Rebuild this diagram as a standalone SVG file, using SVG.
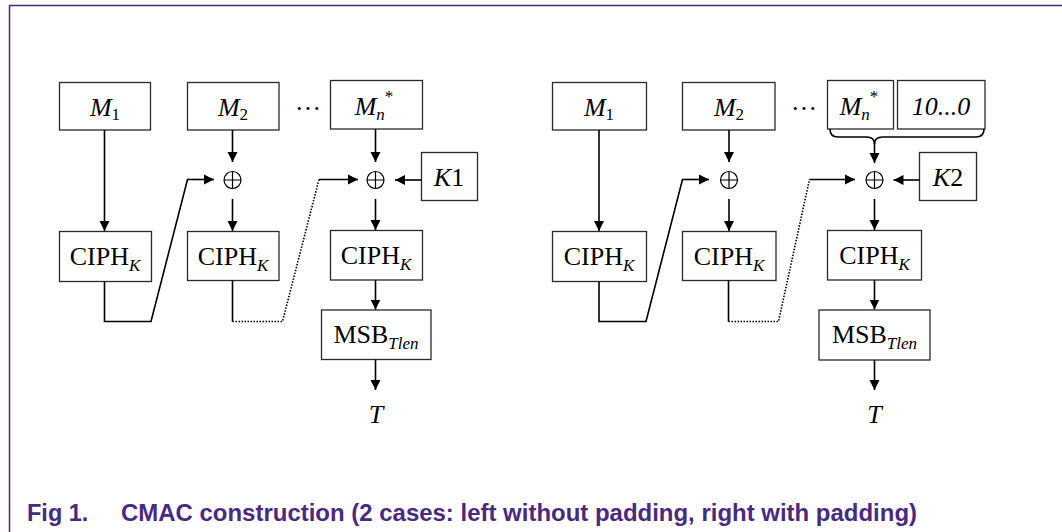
<svg xmlns="http://www.w3.org/2000/svg" width="1062" height="532" viewBox="0 0 1062 532">
<defs>
<marker id="ah" markerUnits="userSpaceOnUse" markerWidth="10" markerHeight="11" viewBox="0 0 10 11" refX="10" refY="5.5" orient="auto">
<path d="M0,0.5 L10,5.5 L0,10.5 Z" fill="#000"/>
</marker>
</defs>
<style>
.box{fill:#fff;stroke:#2a2a2a;stroke-width:1.3}
.t{font-family:"Liberation Serif","Times New Roman",serif;font-size:26px;fill:#000;text-anchor:middle}
.i{font-style:italic}
.sub{font-size:17px}
.ln{fill:none;stroke:#000;stroke-width:1.6}
.ar{fill:none;stroke:#000;stroke-width:1.6;marker-end:url(#ah)}
.dot{fill:none;stroke:#000;stroke-width:1.6;stroke-dasharray:1.5 1.5}
.x{fill:none;stroke:#000;stroke-width:1.2}
.frame{fill:none;stroke:#4A2A80;stroke-width:1.5}
.cap{font-family:"Liberation Sans",Arial,sans-serif;font-weight:bold;font-size:23.5px;fill:#4A2A80}
</style>
<path class="frame" d="M9.5,532 V5.5 H1062"/>

<!-- Left diagram -->
<g id="L_M1"><rect class="box" x="59.5" y="82.5" width="91" height="47.5"/><text class="t" x="105" y="116"><tspan class="i">M</tspan><tspan class="sub" dy="4">1</tspan></text></g>
<g id="L_M2"><rect class="box" x="187.5" y="82.5" width="91.5" height="47.5"/><text class="t" x="233" y="116"><tspan class="i">M</tspan><tspan class="sub" dy="4">2</tspan></text></g>
<g id="L_dots"><text class="t" x="308" y="110">…</text></g>
<g id="L_Mn"><rect class="box" x="330.5" y="80.5" width="92" height="48.5"/><text class="t" x="374" y="115"><tspan class="i">M</tspan><tspan class="sub i" dy="5">n</tspan><tspan class="sub" dy="-18">*</tspan></text></g>
<g id="L_K1"><rect class="box" x="421.5" y="152.5" width="56" height="48"/><text class="t" x="449" y="186"><tspan class="i">K</tspan>1</text></g>
<g id="L_X1"><circle class="x" cx="232.5" cy="180" r="8.5"/><path class="x" d="M224,180 H241 M232.5,171.5 V188.5"/></g>
<g id="L_X2"><circle class="x" cx="375.5" cy="180" r="8.5"/><path class="x" d="M367,180 H384 M375.5,171.5 V188.5"/></g>
<g id="L_C1"><rect class="box" x="59.5" y="231.5" width="92" height="50"/><text class="t" x="105" y="265">CIPH<tspan class="sub i" dy="6">K</tspan></text></g>
<g id="L_C2"><rect class="box" x="187.5" y="231.5" width="91.5" height="49"/><text class="t" x="233" y="264.5">CIPH<tspan class="sub i" dy="6">K</tspan></text></g>
<g id="L_C3"><rect class="box" x="330.5" y="230.5" width="92" height="49.5"/><text class="t" x="376" y="264">CIPH<tspan class="sub i" dy="6">K</tspan></text></g>
<g id="L_MSB"><rect class="box" x="321.5" y="310" width="109.5" height="49.5"/><text class="t" x="376" y="343">MSB<tspan class="sub i" dy="6">Tlen</tspan></text></g>
<g id="L_T"><text class="t i" x="376" y="423">T</text></g>

<!-- Right diagram -->
<g id="R_M1"><rect class="box" x="552.5" y="82.5" width="94" height="47.5"/><text class="t" x="599" y="116"><tspan class="i">M</tspan><tspan class="sub" dy="4">1</tspan></text></g>
<g id="R_M2"><rect class="box" x="682.5" y="82.5" width="92.5" height="47.5"/><text class="t" x="729" y="116"><tspan class="i">M</tspan><tspan class="sub" dy="4">2</tspan></text></g>
<g id="R_dots"><text class="t" x="804" y="110">…</text></g>
<g id="R_Mn"><rect class="box" x="827.5" y="80.5" width="66" height="48.5"/><text class="t" x="859" y="115"><tspan class="i">M</tspan><tspan class="sub i" dy="5">n</tspan><tspan class="sub" dy="-18">*</tspan></text></g>
<g id="R_pad"><rect class="box" x="897.5" y="80.5" width="87.5" height="48.5"/><text class="t i" x="941" y="115">10...0</text></g>
<g id="R_K2"><rect class="box" x="919.5" y="152.5" width="57" height="48"/><text class="t" x="948" y="186"><tspan class="i">K</tspan>2</text></g>
<g id="R_X1"><circle class="x" cx="729" cy="180" r="8.5"/><path class="x" d="M720.5,180 H737.5 M729,171.5 V188.5"/></g>
<g id="R_X2"><circle class="x" cx="874.5" cy="180" r="8.5"/><path class="x" d="M866,180 H883 M874.5,171.5 V188.5"/></g>
<g id="R_C1"><rect class="box" x="552.5" y="231.5" width="94" height="50"/><text class="t" x="599" y="265">CIPH<tspan class="sub i" dy="6">K</tspan></text></g>
<g id="R_C2"><rect class="box" x="682.5" y="231.5" width="93.5" height="49"/><text class="t" x="729" y="264.5">CIPH<tspan class="sub i" dy="6">K</tspan></text></g>
<g id="R_C3"><rect class="box" x="827.5" y="230.5" width="94" height="49.5"/><text class="t" x="874.5" y="264">CIPH<tspan class="sub i" dy="6">K</tspan></text></g>
<g id="R_MSB"><rect class="box" x="819" y="310" width="111" height="50"/><text class="t" x="874.5" y="343">MSB<tspan class="sub i" dy="6">Tlen</tspan></text></g>
<g id="R_T"><text class="t i" x="874.5" y="423">T</text></g>

<g id="connectors">
<!-- left -->
<path class="ar" d="M104.5,130 V231"/>
<path class="ar" d="M232.5,130 V162"/>
<path class="ar" d="M232.5,199 V231"/>
<path class="ar" d="M375.5,129 V162"/>
<path class="ar" d="M375.5,199 V230"/>
<path class="ar" d="M421.5,180 H395"/>
<path class="ar" d="M375.5,280 V309.5"/>
<path class="ar" d="M375.5,359.5 V390"/>
<path class="ln" d="M104.5,281.5 V321.5 H151 L187.5,179.5"/>
<path class="ar" d="M186.8,179.5 H214"/>
<path class="ln" d="M232.5,280.5 V321.5"/>
<path class="dot" d="M232.5,321.5 H282.5 L319,179.5"/>
<path class="ar" d="M319,179.5 H358"/>
<!-- right -->
<path class="ar" d="M599,130 V231"/>
<path class="ar" d="M729,130 V162"/>
<path class="ar" d="M729,199 V231"/>
<path class="ln" d="M830,129 Q830,137 838,137 H866.5 Q874.5,137 874.5,144 Q874.5,137 882.5,137 H976 Q984,137 984,129"/>
<path class="ar" d="M874.5,143 V163"/>
<path class="ar" d="M874.5,199 V230"/>
<path class="ar" d="M919.5,180 H893.5"/>
<path class="ar" d="M874.5,280 V309.5"/>
<path class="ar" d="M874.5,360 V390"/>
<path class="ln" d="M599,281.5 V321.5 H646 L682.5,179.5"/>
<path class="ar" d="M681.8,179.5 H709"/>
<path class="ln" d="M728.5,280.5 V321.5"/>
<path class="dot" d="M728.5,321.5 H778.5 L809.5,179.5"/>
<path class="ar" d="M809.5,179.5 H855"/>
</g>

<g id="caption">
<text class="cap" x="27" y="521">Fig 1.</text>
<text class="cap" x="121" y="521" textLength="796" lengthAdjust="spacingAndGlyphs">CMAC construction (2 cases: left without padding, right with padding)</text>
</g>
</svg>
